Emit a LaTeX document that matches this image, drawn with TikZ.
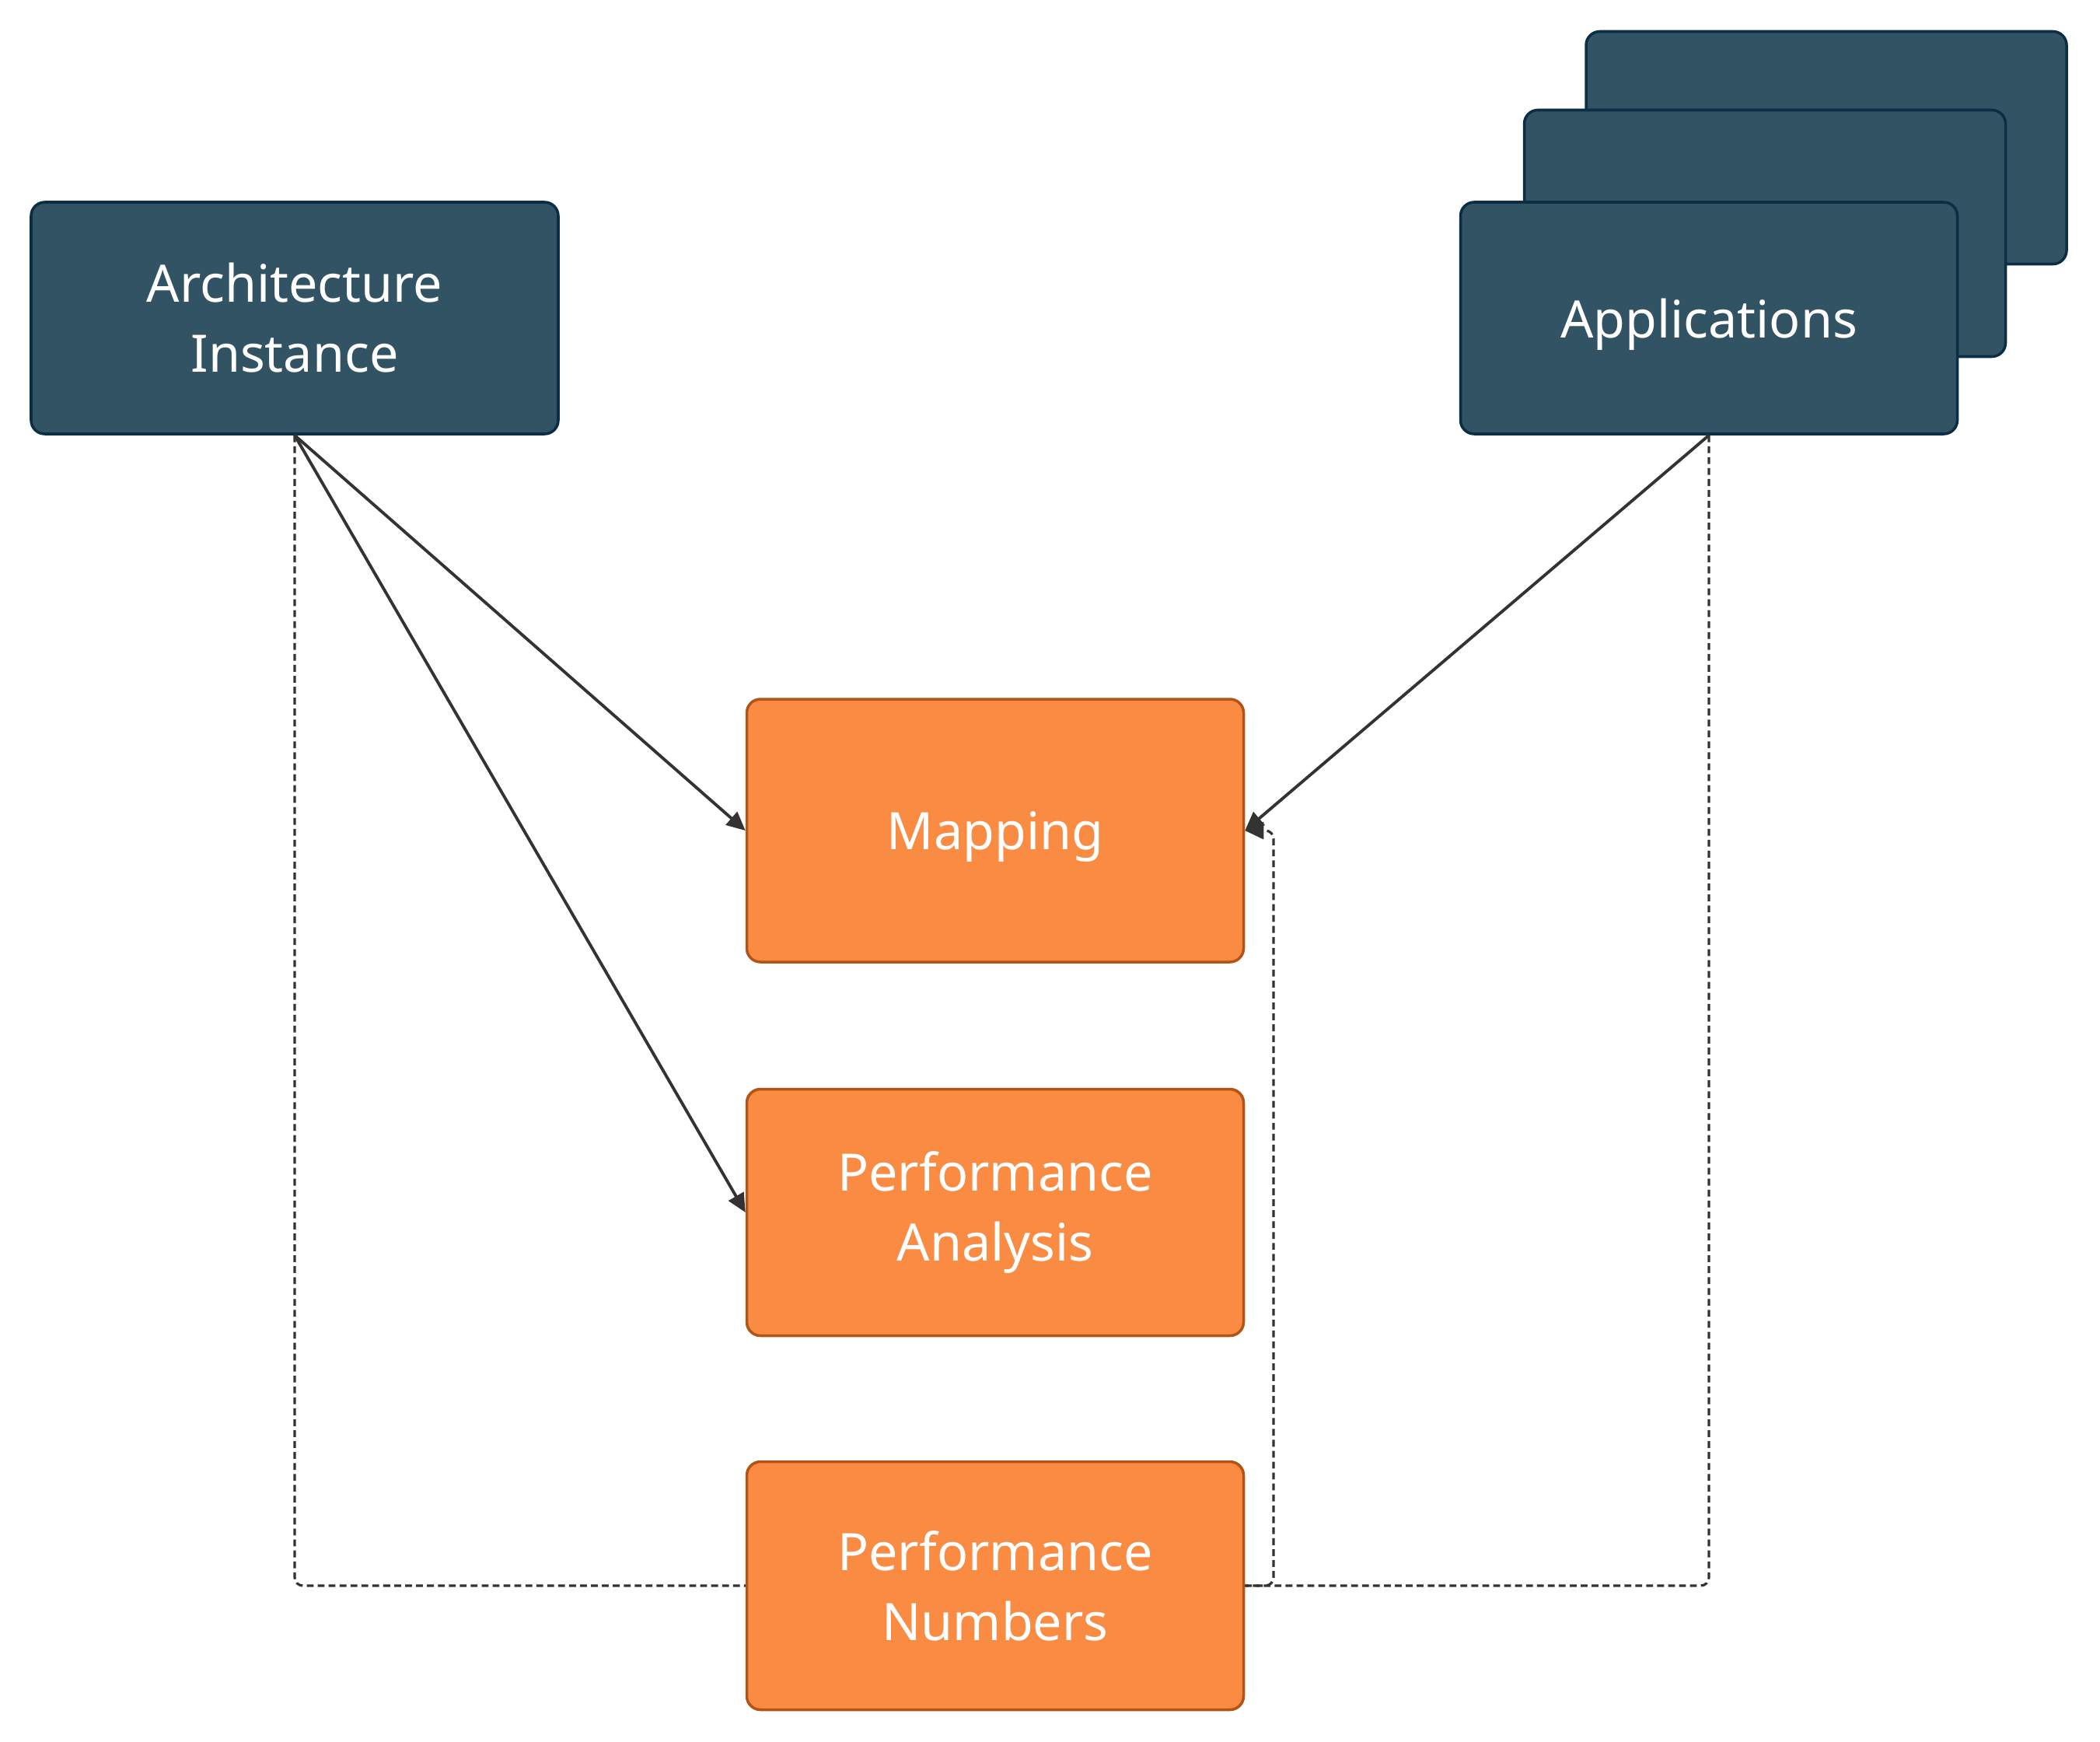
\documentclass[tikz,border=0pt]{standalone}
\usepackage{fontspec}
\setmainfont{Noto Sans}
\usetikzlibrary{arrows.meta, positioning, calc}
\definecolor{mdark}{HTML}{325363}
\definecolor{mdarkline}{HTML}{0B2E44}
\definecolor{morange}{HTML}{F98B43}
\definecolor{morangeline}{HTML}{B35416}
\definecolor{mline}{HTML}{333333}
\tikzset{
  darkbox/.style={draw=mdarkline, fill=mdark, text=white, rounded corners=5pt,
                  line width=1pt, align=center, font=\fontsize{18.9}{25.6}\selectfont},
  obox/.style={draw=morangeline, fill=morange, text=white, rounded corners=5pt,
               line width=1pt, align=center, font=\fontsize{18.9}{25.6}\selectfont,
               minimum width=6.39cm},
  arr/.style={-{Triangle[length=0.24cm,width=0.22cm]}, line width=1.1pt, mline},
  darr/.style={line width=0.9pt, mline, dash pattern=on 2.5pt off 1.5pt, rounded corners=3pt},
}
\begin{document}
\begin{tikzpicture}
  \useasboundingbox (0,0) rectangle (27.01,-22.40);

  \node[darkbox, minimum width=6.78cm, minimum height=2.98cm] (arch) at (3.79,-4.09) {Architecture\\Instance};

  \node[darkbox, minimum width=6.18cm, minimum height=2.99cm] (app3) at (23.49,-1.90) {};
  \node[darkbox, minimum width=6.19cm, minimum height=3.17cm] (app2) at (22.70,-3.00) {};
  \node[darkbox, minimum width=6.39cm, minimum height=2.98cm, text depth=0pt] (app) at (21.98,-4.09) {Applications};

  \node[obox, minimum height=3.38cm, text depth=0pt] (map) at (12.80,-10.68) {Mapping};
  \node[obox, minimum height=3.17cm] (ana) at (12.80,-15.59) {Performance\\Analysis};
  \node[obox, minimum height=3.19cm] (num) at (12.80,-20.39) {Performance\\Numbers};

  \coordinate (back) at (16.38,-10.68);

  % feedback loops
  \draw[darr] (arch.south) |- (num.west);
  \draw[darr] (app.south) |- (num.east);
  \draw[darr, -{Triangle[length=0.24cm,width=0.22cm]}] (num.east) -| (back) -- (map.east);

  \draw[arr] (arch.south) -- (map.west);
  \draw[arr] (arch.south) -- (ana.west);
  \draw[arr] (app.south) -- (map.east);
\end{tikzpicture}
\end{document}
